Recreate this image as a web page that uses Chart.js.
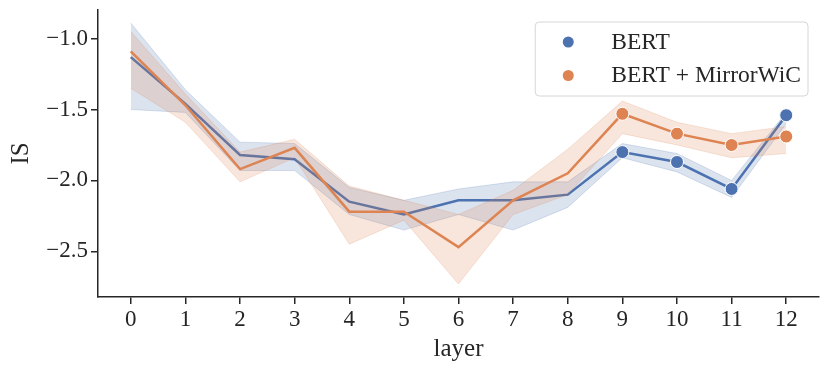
<!DOCTYPE html>
<html lang="en">
<head>
<meta charset="UTF-8">
<title>IS by layer</title>
<script src="https://cdn.jsdelivr.net/npm/chart.js"></script>
<style>
  body { margin: 0; background: #fff; }
  .wrap { position: relative; width: 831px; height: 373px; }
</style>
</head>
<body>
<div class="wrap"><canvas id="isChart"></canvas></div>
<script>
const layers = [0, 1, 2, 3, 4, 5, 6, 7, 8, 9, 10, 11, 12];

const bertMean = [-1.13, -1.46, -1.82, -1.85, -2.15, -2.24, -2.14, -2.14, -2.10, -1.80, -1.87, -2.06, -1.54];
const bertLow  = [-1.50, -1.52, -1.93, -1.93, -2.24, -2.35, -2.24, -2.35, -2.19, -1.84, -1.94, -2.12, -1.60];
const bertHigh = [-0.89, -1.36, -1.73, -1.74, -2.05, -2.14, -2.06, -2.01, -2.01, -1.74, -1.81, -2.00, -1.52];

const mirrorMean = [-1.09, -1.47, -1.92, -1.77, -2.22, -2.22, -2.47, -2.14, -1.95, -1.53, -1.67, -1.75, -1.69];
const mirrorLow  = [-1.35, -1.59, -2.01, -1.84, -2.45, -2.28, -2.73, -2.24, -2.10, -1.67, -1.75, -1.84, -1.81];
const mirrorHigh = [-0.95, -1.39, -1.80, -1.71, -2.04, -2.14, -2.24, -2.07, -1.78, -1.44, -1.59, -1.67, -1.62];

const dotLayers = [9, 10, 11, 12];
const yTicks = [-2.5, -2.0, -1.5, -1.0];
const seriesNames = ['BERT', 'BERT + MirrorWiC'];

const blue = '#4c72b0';
const orange = '#dd8452';
const ink = '#262626';
const serif = "'Liberation Serif', 'Times New Roman', serif";

function pts(vals) {
    return layers.map((l, i) => ({ x: l, y: vals[i] }));
}

function fade(hex, a) {
    const n = parseInt(hex.slice(1), 16);
    return `rgba(${n >> 16}, ${(n >> 8) & 255}, ${n & 255}, ${a})`;
}

const dotSizes = layers.map(l => dotLayers.includes(l) ? 6.5 : 0);

function bandPair(low, high, color, order) {
    return [
        { data: pts(high), borderColor: fade(color, 0.2), borderWidth: 1, pointRadius: 0, fill: false, order: order },
        { data: pts(low), borderColor: fade(color, 0.2), borderWidth: 1, pointRadius: 0,
          fill: '-1', backgroundColor: fade(color, 0.2), order: order }
    ];
}

function meanLine(label, vals, color, order) {
    return {
        label: label, data: pts(vals), borderColor: color, borderWidth: 2.5,
        pointRadius: dotSizes, pointBackgroundColor: color,
        pointBorderColor: '#ffffff', pointBorderWidth: 1,
        fill: false, order: order
    };
}

// legend drawn as a framed box in the top right of the plot
const boxLegend = {
    id: 'boxLegend',
    afterDraw(chart) {
        const { ctx, chartArea } = chart;
        const colors = [blue, orange];
        ctx.save();
        ctx.font = `23.5px ${serif}`;
        const textW = Math.max(...seriesNames.map(s => ctx.measureText(s).width));
        const w = 76 + textW + 7;
        const h = 74;
        const right = chartArea.right - 11;
        const left = right - w;
        const top = chartArea.top + 12;
        ctx.beginPath();
        ctx.roundRect(left, top, w, h, 4);
        ctx.fillStyle = 'rgba(255,255,255,0.8)';
        ctx.fill();
        ctx.strokeStyle = '#d6d6d6';
        ctx.lineWidth = 1;
        ctx.stroke();
        seriesNames.forEach((name, i) => {
            const cy = top + 20 + i * 33.5;
            ctx.beginPath();
            ctx.arc(left + 33, cy, 5.5, 0, Math.PI * 2);
            ctx.fillStyle = colors[i];
            ctx.fill();
            ctx.fillStyle = ink;
            ctx.textBaseline = 'alphabetic';
            ctx.fillText(name, left + 76, cy + 6.5);
        });
        ctx.restore();
    }
};

const axisGrid = { drawOnChartArea: false, drawTicks: true, tickLength: 7, color: ink, lineWidth: 1.5 };
const axisBorder = { display: true, color: ink, width: 1.5 };

const ctx = document.getElementById('isChart').getContext('2d');
const isChart = new Chart(ctx, {
    type: 'line',
    data: {
        datasets: [
            ...bandPair(bertLow, bertHigh, blue, 4),
            meanLine(seriesNames[0], bertMean, blue, 3),
            ...bandPair(mirrorLow, mirrorHigh, orange, 2),
            meanLine(seriesNames[1], mirrorMean, orange, 1)
        ]
    },
    options: {
        responsive: true,
        maintainAspectRatio: false,
        devicePixelRatio: 1,
        animation: false,
        layout: { padding: { top: 10, right: 12, bottom: 0, left: 0 } },
        elements: { line: { tension: 0 } },
        plugins: { legend: { display: false }, tooltip: { enabled: false } },
        scales: {
            x: {
                type: 'linear', min: -0.6, max: 12.6,
                afterBuildTicks: s => { s.ticks = layers.map(v => ({ value: v })); },
                afterFit: s => { s.height = 76; s.paddingLeft = 0; s.paddingRight = 0; },
                grid: axisGrid, border: axisBorder,
                ticks: { color: ink, font: { family: serif, size: 23 }, padding: 2, maxRotation: 0 },
                title: { display: true, text: 'layer', color: ink, font: { family: serif, size: 25 },
                         padding: { top: 0, bottom: 9 } }
            },
            y: {
                type: 'linear', min: -2.822, max: -0.798,
                afterBuildTicks: s => { s.ticks = yTicks.map(v => ({ value: v })); },
                afterFit: s => { s.width = 98; s.paddingTop = 0; s.paddingBottom = 0; },
                grid: axisGrid, border: axisBorder,
                ticks: { color: ink, font: { family: serif, size: 23 }, padding: 3,
                         callback: v => (v < 0 ? '\u2212' : '') + Math.abs(v).toFixed(1) },
                title: { display: true, text: 'IS', color: ink, font: { family: serif, size: 25 },
                         padding: { top: 6, bottom: 0 } }
            }
        }
    },
    plugins: [boxLegend]
});
</script>
</body>
</html>
